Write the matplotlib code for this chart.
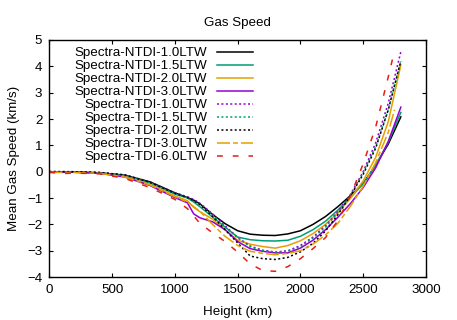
import numpy as np
import matplotlib
matplotlib.use("Agg")
import matplotlib.pyplot as plt

plt.rcParams['font.family'] = ['Liberation Sans', 'DejaVu Sans']
plt.rcParams['font.size'] = 9.6

# heights (km) shared by most curves
h = [0, 200, 400, 600, 800, 1000, 1100, 1150, 1200, 1300, 1400, 1500, 1600,
     1700, 1800, 1900, 2000, 2100, 2200, 2300, 2400, 2500, 2600, 2700, 2800]

ntdi_10 = [0, -0.01, -0.04, -0.13, -0.38, -0.80, -0.98, -1.08, -1.22, -1.62, -1.97, -2.24, -2.37,
           -2.41, -2.42, -2.36, -2.24, -2.00, -1.70, -1.32, -0.90, -0.45, 0.25, 1.05, 2.08]
ntdi_15 = [0, -0.01, -0.05, -0.15, -0.42, -0.85, -1.00, -1.15, -1.33, -1.72, -2.10, -2.48, -2.58,
           -2.62, -2.63, -2.60, -2.45, -2.20, -1.88, -1.45, -0.98, -0.45, 0.25, 1.12, 2.25]
ntdi_20 = [-0.02, -0.02, -0.06, -0.18, -0.48, -0.92, -1.10, -1.35, -1.52, -1.80, -2.20, -2.60, -2.75,
           -2.84, -2.90, -2.80, -2.62, -2.35, -2.00, -1.55, -1.00, -0.35, 0.55, 1.90, 4.05]
ntdi_30 = [-0.02, -0.02, -0.06, -0.20, -0.52, -0.98, -1.18, -1.60, -1.75, -1.90, -2.20, -2.65, -2.92,
           -3.02, -3.08, -3.08, -2.90, -2.60, -2.20, -1.72, -1.20, -0.60, 0.15, 1.15, 2.45]
tdi_10 = [0, 0, -0.03, -0.12, -0.38, -0.80, -0.95, -1.05, -1.20, -1.60, -2.05, -2.50, -2.82,
          -2.98, -3.05, -3.00, -2.80, -2.48, -2.05, -1.50, -0.85, 0.00, 1.10, 2.60, 4.55]
tdi_15 = [0, 0, -0.03, -0.13, -0.40, -0.82, -0.97, -1.08, -1.24, -1.65, -2.10, -2.50, -2.85,
          -3.00, -3.05, -3.02, -2.85, -2.52, -2.10, -1.55, -0.90, -0.05, 0.95, 2.35, 4.20]
tdi_20 = [0.01, 0, -0.03, -0.12, -0.40, -0.82, -0.98, -1.10, -1.25, -1.70, -2.20, -2.70, -3.20,
          -3.30, -3.33, -3.25, -3.04, -2.72, -2.25, -1.62, -0.90, -0.10, 0.90, 2.35, 4.20]

h_30 = [0, 200, 400, 600, 800, 1000, 1100, 1200, 1300, 1400, 1500, 1600,
        1700, 1800, 1900, 2000, 2100, 2200, 2300, 2400, 2500, 2600, 2700, 2750]
tdi_30 = [-0.02, -0.03, -0.06, -0.20, -0.50, -0.95, -1.15, -1.50, -2.00, -2.45, -2.80, -3.02,
          -3.10, -3.15, -3.10, -3.00, -2.75, -2.40, -1.95, -1.30, -0.55, 0.35, 1.50, 2.35]

h_60 = [0, 100, 200, 400, 600, 800, 900, 1000, 1100, 1200, 1300, 1400, 1500, 1600,
        1700, 1800, 1900, 2000, 2100, 2200, 2300, 2400, 2500, 2600, 2700, 2740]
tdi_60 = [-0.02, -0.07, -0.05, -0.08, -0.25, -0.60, -0.82, -1.05, -1.40, -1.96, -2.32, -2.65, -3.05, -3.50,
          -3.75, -3.78, -3.60, -3.30, -2.92, -2.50, -1.85, -0.90, 0.30, 1.70, 3.60, 4.40]

black = '#000000'
green = '#009e73'
orange = '#e69f00'
purple = '#9400d3'
red = '#e51e10'

fig = plt.figure(figsize=(4.57, 3.2), dpi=100)
ax = fig.add_axes([0.108, 0.134, 0.824, 0.741])

lw = 1.1
ax.plot(h, ntdi_10, color=black, lw=lw, label='Spectra-NTDI-1.0LTW')
ax.plot(h, ntdi_15, color=green, lw=lw, label='Spectra-NTDI-1.5LTW')
ax.plot(h, ntdi_20, color=orange, lw=lw, label='Spectra-NTDI-2.0LTW')
ax.plot(h, ntdi_30, color=purple, lw=lw, label='Spectra-NTDI-3.0LTW')
ax.plot(h, tdi_10, color=purple, lw=lw, dashes=(1.3, 1.6), label='Spectra-TDI-1.0LTW')
ax.plot(h, tdi_15, color=green, lw=lw, dashes=(1.3, 1.6), label='Spectra-TDI-1.5LTW')
ax.plot(h, tdi_20, color=black, lw=lw, dashes=(1.3, 1.6), label='Spectra-TDI-2.0LTW')
ax.plot(h_30, tdi_30, color=orange, lw=lw, dashes=(8.5, 2.0, 3.2, 2.0), label='Spectra-TDI-3.0LTW')
ax.plot(h_60, tdi_60, color=red, lw=lw, dashes=(3.8, 6.5), label='Spectra-TDI-6.0LTW')

ax.set_xlim(0, 3000)
ax.set_ylim(-4, 5)
ax.set_xticks(range(0, 3001, 500))
ax.set_yticks(range(-4, 6))
ax.tick_params(direction='in', top=True, right=True, length=3, width=0.8, pad=5)
for s in ax.spines.values():
    s.set_linewidth(1.0)

ax.set_title('Gas Speed', fontsize=9.6, pad=10)
ax.set_xlabel('Height (km)', labelpad=7)
ax.set_ylabel('Mean Gas Speed (km/s)', labelpad=5)

ax.legend(loc='upper right', bbox_to_anchor=(0.568, 1.015), frameon=False, markerfirst=False,
          handlelength=2.7, handletextpad=0.7, labelspacing=0.05, borderpad=0.3,
          fontsize=9.6)

fig.savefig('out.png', dpi=100)
